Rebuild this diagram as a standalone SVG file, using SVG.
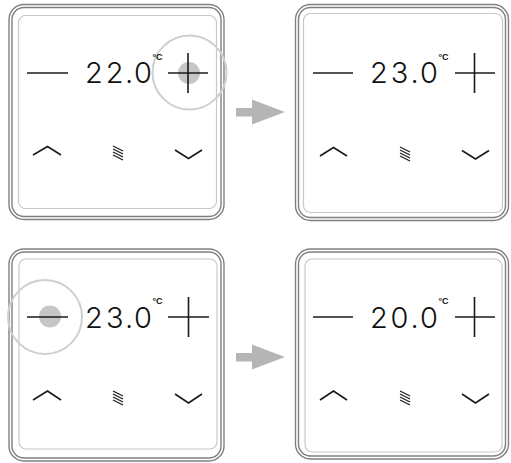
<svg xmlns="http://www.w3.org/2000/svg" width="511" height="463" viewBox="0 0 511 463">
<style>
.fo{fill:none;stroke:#808080;stroke-width:1.4}
.fi{fill:none;stroke:#c8c8c8;stroke-width:1.2}
.ln{fill:none;stroke:#1a1a1a;stroke-width:1.6;stroke-linecap:butt}
.th{fill:none;stroke:#222;stroke-width:1.3}
.dg{font-family:Inter,"Liberation Sans",sans-serif;font-weight:300;font-size:29px;fill:#111;text-anchor:middle}
.dc{font-family:"Liberation Sans",sans-serif;font-weight:bold;font-size:9px;fill:#111}
.ring{fill:none;stroke:#cfcfcf;stroke-width:2}
.dot{fill:#c6c6c6}
.arr{fill:#b5b5b5}
</style>
<defs>
<g id="menu" class="th">
<line x1="-5" y1="-7" x2="5" y2="-2"/>
<line x1="-5" y1="-4" x2="5" y2="1"/>
<line x1="-5" y1="-1" x2="5" y2="4"/>
<line x1="-5" y1="2" x2="5" y2="7"/>
</g>
</defs>
<rect width="511" height="463" fill="#fff"/>
<g id="panel1">
<rect class="fo" x="9" y="4.5" width="215" height="215" rx="15"/>
<rect class="fo" x="12" y="7.5" width="209" height="209" rx="12"/>
<rect class="fi" x="18.5" y="15.5" width="198" height="193" rx="7"/>
<circle class="dot" cx="189" cy="73" r="11"/>
<circle class="ring" cx="189.5" cy="72.5" r="37"/>
<line class="ln" x1="27" y1="73" x2="68" y2="73"/>
<text class="dg" y="83" x="94 114.7 129 143">22.0</text>
<text class="dc" x="152.5" y="60">°C</text>
<line class="ln" x1="168" y1="73" x2="208" y2="73"/>
<line class="ln" x1="188" y1="53" x2="188" y2="93"/>
<polyline class="ln" points="33,155 47.5,146.5 61,155"/>
<use href="#menu" x="118" y="153"/>
<polyline class="ln" points="175,150 188.5,158.5 202,150"/>
</g>
<g id="panel2">
<rect class="fo" x="295.5" y="4.5" width="213" height="216" rx="15"/>
<rect class="fo" x="298.5" y="7.5" width="207" height="210" rx="12"/>
<rect class="fi" x="303.5" y="13.5" width="199" height="199" rx="7"/>
<line class="ln" x1="313" y1="73" x2="353" y2="73"/>
<text class="dg" y="83" x="379 399.5 414.5 429">23.0</text>
<text class="dc" x="438.5" y="60">°C</text>
<line class="ln" x1="455" y1="73" x2="495" y2="73"/>
<line class="ln" x1="474.5" y1="53" x2="474.5" y2="93"/>
<polyline class="ln" points="320,156 333.5,147.5 347,156"/>
<use href="#menu" x="405" y="154"/>
<polyline class="ln" points="462,150.5 475.5,159 489,150.5"/>
</g>
<g id="panel3">
<rect class="fo" x="9" y="249" width="215" height="212" rx="15"/>
<rect class="fo" x="12" y="252" width="209" height="206" rx="12"/>
<rect class="fi" x="19" y="259" width="198" height="190" rx="7"/>
<circle class="dot" cx="50" cy="316.5" r="11"/>
<circle class="ring" cx="45" cy="317" r="37"/>
<line class="ln" x1="27" y1="317" x2="68" y2="317"/>
<text class="dg" y="327.5" x="94 114.7 129 143">23.0</text>
<text class="dc" x="152.5" y="304">°C</text>
<line class="ln" x1="168" y1="317" x2="209" y2="317"/>
<line class="ln" x1="188.5" y1="297" x2="188.5" y2="337"/>
<polyline class="ln" points="33,400 47.5,391 61,400"/>
<use href="#menu" x="118" y="398"/>
<polyline class="ln" points="175,394 188.5,403 202,394"/>
</g>
<g id="panel4">
<rect class="fo" x="295.5" y="249" width="213" height="210" rx="15"/>
<rect class="fo" x="298.5" y="252" width="207" height="204" rx="12"/>
<rect class="fi" x="305" y="259" width="197" height="193" rx="7"/>
<line class="ln" x1="313" y1="317" x2="353" y2="317"/>
<text class="dg" y="327.5" x="379 399.5 414.5 429">20.0</text>
<text class="dc" x="438.5" y="304">°C</text>
<line class="ln" x1="455" y1="317" x2="495" y2="317"/>
<line class="ln" x1="474.5" y1="297" x2="474.5" y2="337"/>
<polyline class="ln" points="320,400 333.5,391 347,400"/>
<use href="#menu" x="405" y="398"/>
<polyline class="ln" points="462,394 475.5,403 489,394"/>
</g>
<g id="connectors">
<polygon class="arr" points="236,108 252,108 252,99.5 285,112 252,124.5 252,116.5 236,116.5"/>
<polygon class="arr" points="236,353 252,353 252,344.5 285,357 252,369.5 252,361.5 236,361.5"/>
</g>
</svg>
